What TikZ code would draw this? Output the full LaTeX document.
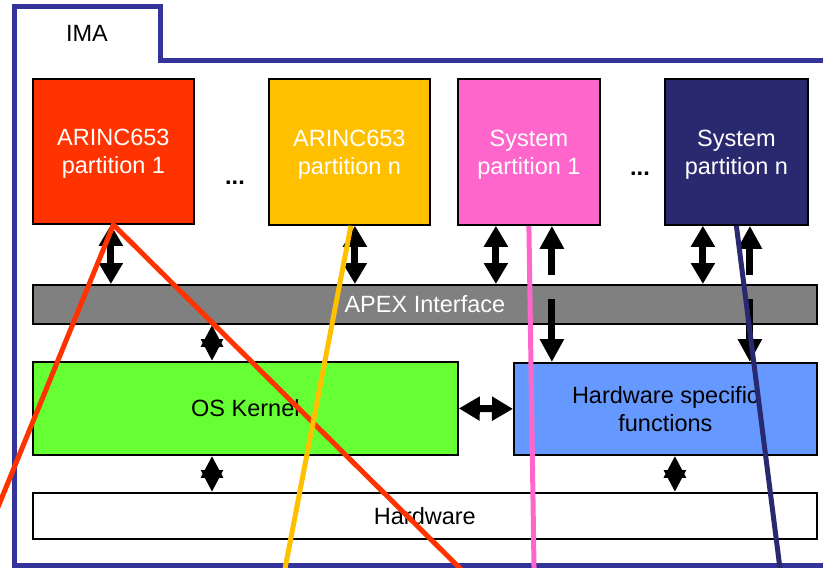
\documentclass[tikz,border=0pt]{standalone}
\usepackage{fontspec}
\setmainfont{Liberation Sans}
\usetikzlibrary{arrows.meta,calc}
\definecolor{imablue}{HTML}{333399}
\definecolor{arincred}{HTML}{FF3300}
\definecolor{arincyel}{HTML}{FFC000}
\definecolor{syspink}{HTML}{FF66CC}
\definecolor{sysnavy}{HTML}{29296F}
\definecolor{apexgray}{HTML}{808080}
\definecolor{osgreen}{HTML}{66FF33}
\definecolor{hwsblue}{HTML}{6699FF}
\tikzset{
  box/.style={draw=black,line width=1.8pt,anchor=north west,inner sep=0pt,align=center,font=\fontsize{23.5}{28}\selectfont},
  dblarrow/.style={line width=7pt,{Triangle[width=23pt,length=21pt]}-{Triangle[width=23pt,length=21pt]}},
  shortarrow/.style={line width=7pt,-{Triangle[width=21pt,length=22pt]}},
  sglarrow/.style={line width=7pt,-{Triangle[width=23pt,length=23pt]}},
  trace/.style={line width=5pt}
}
\begin{document}
\begin{tikzpicture}[x=1pt,y=-1pt]
  \useasboundingbox (0,0) rectangle (823,568);
  \clip (0,0) rectangle (823,568);
  \draw[imablue,line width=5pt] (830,565.5) -- (14.5,565.5) -- (14.5,6.5) -- (160,6.5) -- (160,60.5) -- (830,60.5);
  \node[font=\fontsize{23.5}{28}\selectfont] (ima) at (87,33) {IMA};
  \node[box,fill=arincred,text=white,minimum width=161pt,minimum height=145pt,text depth=0pt] (p1) at (32,78) {ARINC653\\partition 1};
  \node[box,fill=arincyel,text=white,minimum width=161pt,minimum height=146pt,text depth=0pt] (pn) at (268,78) {ARINC653\\partition n};
  \node[box,fill=syspink,text=white,minimum width=142pt,minimum height=146pt,text depth=0pt] (s1) at (457,78) {System\\partition 1};
  \node[box,fill=sysnavy,text=white,minimum width=143pt,minimum height=146pt,text depth=0pt] (sn) at (664,78) {System\\partition n};
  \node[font=\fontsize{23.5}{28}\selectfont\bfseries] (dotsa) at (235,183) {...};
  \node[font=\fontsize{23.5}{28}\selectfont\bfseries] (dotsb) at (640,174) {...};
  \node[box,fill=apexgray,text=white,minimum width=784pt,minimum height=39pt] (apex) at (32,284) {APEX Interface};
  \node[box,fill=osgreen,minimum width=425pt,minimum height=93pt] (os) at (32,361) {OS Kernel};
  \node[box,fill=hwsblue,minimum width=303pt,minimum height=92pt] (hws) at (513,362) {Hardware specific\\functions};
  \node[box,fill=white,minimum width=784pt,minimum height=46pt] (hw) at (32,492) {Hardware};
  \draw[dblarrow] ($(p1.south)+(-2.5,0)$) -- ($(apex.north -| p1.south)+(-2.5,0)$);
  \draw[dblarrow] ($(pn.south)+(5.5,0)$) -- ($(apex.north -| pn.south)+(5.5,0)$);
  \draw[dblarrow] ($(s1.south)+(-33,0)$) -- ($(apex.north -| s1.south)+(-33,0)$);
  \draw[dblarrow] ($(sn.south)+(-33.5,0)$) -- ($(apex.north -| sn.south)+(-33.5,0)$);
  \draw[sglarrow] ($(apex.north -| s1.south)+(23,-9)$) -- ($(s1.south)+(23,0)$);
  \draw[sglarrow] ($(apex.north -| s1.south)+(23,15)$) -- ($(hws.north -| s1.south)+(23,0)$);
  \draw[sglarrow] ($(apex.north -| sn.south)+(13.5,-9)$) -- ($(sn.south)+(13.5,0)$);
  \draw[sglarrow] ($(apex.north -| sn.south)+(13.5,15)$) -- ($(hws.north -| sn.south)+(13.5,0)$);
  \path (apex.south -| 212,0) -- coordinate (kup) (os.north -| 212,0);
  \path (os.south -| 212,0) -- coordinate (kdown) (hw.north -| 212,0);
  \path ($(hws.south)+(9.5,0)$) -- coordinate (hdown) ($(hw.north -| hws.south)+(9.5,0)$);
  \draw[shortarrow] (kup) -- (apex.south -| kup);
  \draw[shortarrow] (kup) -- (os.north -| kup);
  \draw[shortarrow] (kdown) -- (os.south -| kdown);
  \draw[shortarrow] (kdown) -- (hw.north -| kdown);
  \draw[shortarrow] (hdown) -- (hws.south -| hdown);
  \draw[shortarrow] (hdown) -- (hw.north -| hdown);
  \draw[dblarrow] (os.east) -- (hws.west);
  \coordinate (redl) at (-40,600);
  \coordinate (redr) at (492,600);
  \coordinate (yelend) at (279,600);
  \coordinate (pinkend) at (534.5,600);
  \coordinate (navyend) at (784,600);
  \draw[trace,arincred] (redl) -- (p1.south) -- (redr);
  \draw[trace,arincyel] ($(pn.south)+(1.5,0)$) -- (yelend);
  \draw[trace,syspink] (s1.south) -- (pinkend);
  \draw[trace,sysnavy] (sn.south) -- (navyend);
\end{tikzpicture}
\end{document}
